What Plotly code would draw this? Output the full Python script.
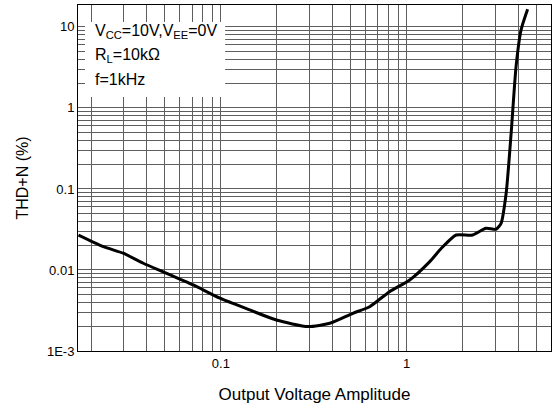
import numpy as np
import plotly.graph_objects as go

# Data
vout = [0.0171, 0.0233, 0.0298, 0.0382, 0.0511, 0.0710, 0.0988, 0.143, 0.199, 0.295,
        0.386, 0.514, 0.633, 0.810, 1.04, 1.33, 1.54, 1.85, 2.27, 2.68, 3.03, 3.23,
        3.44, 3.66, 3.89, 4.14, 4.49]
thdn = [0.0270, 0.0194, 0.0161, 0.0121, 0.0091, 0.00653, 0.00448, 0.00321, 0.00241, 0.00200,
        0.0022, 0.00292, 0.00352, 0.0054, 0.00753, 0.0126, 0.0185, 0.027, 0.027, 0.0327, 0.0318, 0.0377,
        0.0885, 0.487, 3.24, 9.18, 16.5]

x_ticks = [0.1, 1]
x_ticklabels = ["0.1", "1"]
y_ticks = [10, 1, 0.1, 0.01, 0.001]
y_ticklabels = ["10", "1", "0.1", "0.01", "1E-3"]

x_grid = [m * 10.0 ** e for e in (-2, -1, 0) for m in range(1, 10)]
y_grid = [m * 10.0 ** e for e in (-3, -2, -1, 0, 1) for m in range(1, 10)]

fig = go.Figure()
fig.add_trace(go.Scatter(x=vout, y=thdn, mode="lines",
                         line=dict(color="black", width=3, shape="spline", smoothing=0.6),
                         showlegend=False, hoverinfo="skip"))

font = "Liberation Sans, Arial, sans-serif"
grid_color = "#5e5e5e"

fig.update_layout(
    width=553, height=404,
    margin=dict(l=78, r=2, t=5, b=53),
    paper_bgcolor="white", plot_bgcolor="white",
    font=dict(family=font, size=13, color="black"),
    xaxis=dict(type="log", range=[np.log10(0.017), np.log10(6.0)],
               tickvals=x_ticks, ticktext=x_ticklabels, ticks="",
               showgrid=False, zeroline=False, automargin=False,
               showline=True, linecolor="black", linewidth=1, mirror=True,
               minor=dict(tickvals=x_grid, showgrid=True, gridcolor=grid_color, gridwidth=1, ticks=""),
               title=dict(text="Output Voltage Amplitude", font=dict(size=17), standoff=18)),
    yaxis=dict(type="log", range=[-3, 1.27],
               tickvals=y_ticks, ticktext=y_ticklabels, ticks="",
               showgrid=False, zeroline=False, automargin=False,
               showline=True, linecolor="black", linewidth=1, mirror=True,
               minor=dict(tickvals=y_grid, showgrid=True, gridcolor=grid_color, gridwidth=1, ticks=""),
               title=dict(text="THD+N (%)", font=dict(size=16), standoff=14)),
)

# white box behind the condition text
fig.add_shape(type="rect", xref="paper", yref="paper",
              x0=0.0148, x1=0.311, y0=0.734, y1=0.951,
              fillcolor="white", line=dict(width=0), layer="above")

texts = ["V<sub>CC</sub>=10V,V<sub>EE</sub>=0V", "R<sub>L</sub>=10kΩ", "f=1kHz"]
ys = [0.922, 0.855, 0.785]
for t, yy in zip(texts, ys):
    fig.add_annotation(text=t, xref="paper", yref="paper", x=0.031, y=yy,
                       xanchor="left", yanchor="middle", showarrow=False,
                       font=dict(size=16, family=font, color="black"))

fig.write_html("out.html", config={"displayModeBar": False},
               post_script="document.body.style.margin='0';")
